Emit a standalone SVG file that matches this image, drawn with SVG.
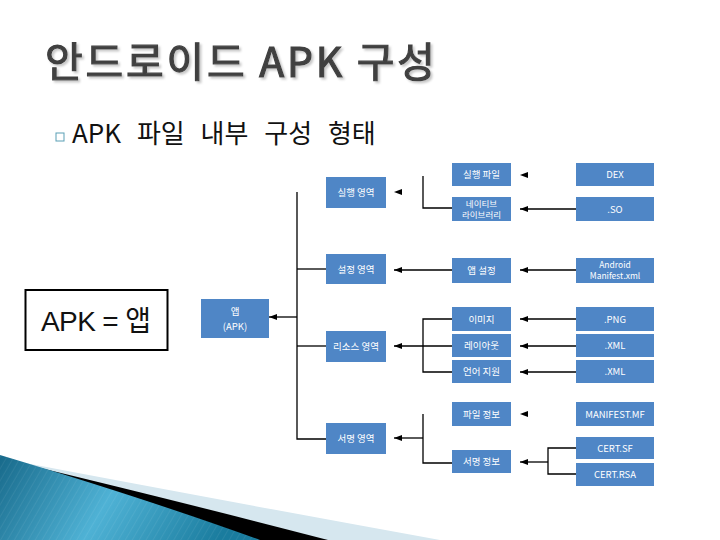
<svg xmlns="http://www.w3.org/2000/svg" width="720" height="540" viewBox="0 0 720 540">
<defs>
<style>
.box{fill:#4f86c6}
.lbl{fill:#ffffff;font-family:"Noto Sans CJK KR","Liberation Sans",sans-serif;font-size:9.5px;text-anchor:middle}
.sm{font-size:8.5px}
.ln{fill:none;stroke:#000;stroke-width:1.3}
.ar{marker-end:url(#ah)}
</style>
<marker id="ah" viewBox="0 0 8 6" refX="8" refY="3" markerWidth="8" markerHeight="6" markerUnits="userSpaceOnUse" orient="auto">
<path d="M0,0 L8,3 L0,6 Z" fill="#000"/>
</marker>
<filter id="shadow" x="-5%" y="-20%" width="110%" height="140%">
<feDropShadow dx="2" dy="2" stdDeviation="0.8" flood-color="#c8c8c8" flood-opacity="1"/>
</filter>
<linearGradient id="wave" x1="0" y1="0" x2="1" y2="0.2">
<stop offset="0" stop-color="#17698a"/>
<stop offset="0.5" stop-color="#4fb2d5"/>
<stop offset="1" stop-color="#1a7c9e"/>
</linearGradient>
<pattern id="stripes" width="6" height="6" patternUnits="userSpaceOnUse" patternTransform="rotate(30)">
<line x1="0" y1="0" x2="0" y2="6" stroke="#ffffff" stroke-width="1" stroke-opacity="0.12"/>
</pattern>
</defs>

<!-- decoration -->
<g id="decoration">
<path d="M20,462 Q220,500 440,540 L0,540 Z" fill="#d6e7ef"/>
<path d="M28,465 Q190,504 328,540 L0,540 Z" fill="#000"/>
<path d="M0,455 Q150,500 260,540 L0,540 Z" fill="url(#wave)"/>
<path d="M0,455 Q150,500 260,540 L0,540 Z" fill="url(#stripes)"/>
</g>

<!-- title -->
<g id="title">
<text x="45" y="77" font-family="'Noto Sans CJK KR','Liberation Sans',sans-serif" font-size="41" fill="#404040" stroke="#404040" stroke-width="1.2" filter="url(#shadow)" textLength="390" lengthAdjust="spacing">안드로이드 APK 구성</text>
</g>
<g id="subtitle">
<rect x="56" y="133" width="8" height="8" fill="none" stroke="#5a9fb5" stroke-width="1"/>
<text x="72" y="143" font-family="'Noto Sans CJK KR','Liberation Sans',sans-serif" font-size="26" fill="#111" word-spacing="10">APK 파일 내부 구성 형태</text>
</g>

<!-- APK = 앱 -->
<g id="apk-eq">
<rect x="25.5" y="290" width="142" height="60" fill="#fff" stroke="#000" stroke-width="2"/>
<text x="41" y="331" font-family="'Liberation Sans','Noto Sans CJK KR',sans-serif" font-size="28" fill="#111" textLength="110" lengthAdjust="spacing">APK = 앱</text>
</g>

<!-- connectors -->
<g id="connectors">
<path class="ln" d="M297,192 V439 H326"/>
<path class="ln" d="M297,269 H326"/>
<path class="ln" d="M297,346 H326"/>
<path class="ln ar" d="M297,317 H269"/>
<path class="ar" d="M404,192 H394" stroke="none" fill="none"/>
<path class="ln" d="M423,176 V208 H452"/>
<path class="ar" d="M530,175 H520" stroke="none" fill="none"/>
<path class="ln ar" d="M576,209 H520"/>
<path class="ln ar" d="M452,270 H394"/>
<path class="ln ar" d="M576,270 H520"/>
<path class="ln" d="M452,319 H423 V372 H452"/>
<path class="ln ar" d="M452,346 H394"/>
<path class="ln ar" d="M576,319 H520"/>
<path class="ln ar" d="M576,346 H520"/>
<path class="ln ar" d="M576,372 H520"/>
<path class="ln" d="M423,414 V463 H452"/>
<path class="ln ar" d="M423,438 H394"/>
<path class="ar" d="M530,414 H520" stroke="none" fill="none"/>
<path class="ln" d="M576,448 H548 V474 H576"/>
<path class="ln ar" d="M548,462 H520"/>
</g>

<!-- nodes -->
<g id="n-app"><rect class="box" x="201" y="299" width="68" height="39"/><text class="lbl" x="235" y="315">앱</text><text class="lbl" x="235" y="330">(APK)</text></g>
<g id="n-exec-area"><rect class="box" x="326" y="177" width="60" height="31"/><text class="lbl" x="356" y="196">실행 영역</text></g>
<g id="n-set-area"><rect class="box" x="326" y="254" width="60" height="30"/><text class="lbl" x="356" y="272.5">설정 영역</text></g>
<g id="n-res-area"><rect class="box" x="326" y="331" width="60" height="31"/><text class="lbl" x="356" y="350">리소스 영역</text></g>
<g id="n-sign-area"><rect class="box" x="326" y="423" width="60" height="31"/><text class="lbl" x="356" y="442">서명 영역</text></g>

<g id="n-exec-file"><rect class="box" x="452" y="163" width="59" height="23"/><text class="lbl" x="481.5" y="178">실행 파일</text></g>
<g id="n-native"><rect class="box" x="452" y="197" width="59" height="24"/><text class="lbl sm" x="481.5" y="207">네이티브</text><text class="lbl sm" x="481.5" y="218">라이브러리</text></g>
<g id="n-app-set"><rect class="box" x="452" y="258" width="59" height="25"/><text class="lbl" x="481.5" y="274">앱 설정</text></g>
<g id="n-image"><rect class="box" x="452" y="307" width="59" height="24"/><text class="lbl" x="481.5" y="322.5">이미지</text></g>
<g id="n-layout"><rect class="box" x="452" y="334" width="59" height="23"/><text class="lbl" x="481.5" y="349">레이아웃</text></g>
<g id="n-lang"><rect class="box" x="452" y="360" width="59" height="23"/><text class="lbl" x="481.5" y="375">언어 지원</text></g>
<g id="n-fileinfo"><rect class="box" x="452" y="402" width="59" height="24"/><text class="lbl" x="481.5" y="417.5">파일 정보</text></g>
<g id="n-signinfo"><rect class="box" x="452" y="450" width="59" height="23"/><text class="lbl" x="481.5" y="465">서명 정보</text></g>

<g id="n-dex"><rect class="box" x="576" y="163" width="78" height="23"/><text class="lbl" x="615" y="178">DEX</text></g>
<g id="n-so"><rect class="box" x="576" y="197" width="78" height="24"/><text class="lbl" x="615" y="212.5">.SO</text></g>
<g id="n-manifest-xml"><rect class="box" x="576" y="258" width="78" height="25"/><text class="lbl sm" x="615" y="268">Android</text><text class="lbl sm" x="615" y="279">Manifest.xml</text></g>
<g id="n-png"><rect class="box" x="576" y="307" width="78" height="24"/><text class="lbl" x="615" y="322.5">.PNG</text></g>
<g id="n-xml1"><rect class="box" x="576" y="334" width="78" height="23"/><text class="lbl" x="615" y="349">.XML</text></g>
<g id="n-xml2"><rect class="box" x="576" y="360" width="78" height="23"/><text class="lbl" x="615" y="375">.XML</text></g>
<g id="n-manifest-mf"><rect class="box" x="576" y="402" width="78" height="24"/><text class="lbl" x="615" y="417.5">MANIFEST.MF</text></g>
<g id="n-cert-sf"><rect class="box" x="576" y="437" width="78" height="22"/><text class="lbl" x="615" y="451.5">CERT.SF</text></g>
<g id="n-cert-rsa"><rect class="box" x="576" y="463" width="78" height="23"/><text class="lbl" x="615" y="478">CERT.RSA</text></g>
</svg>
